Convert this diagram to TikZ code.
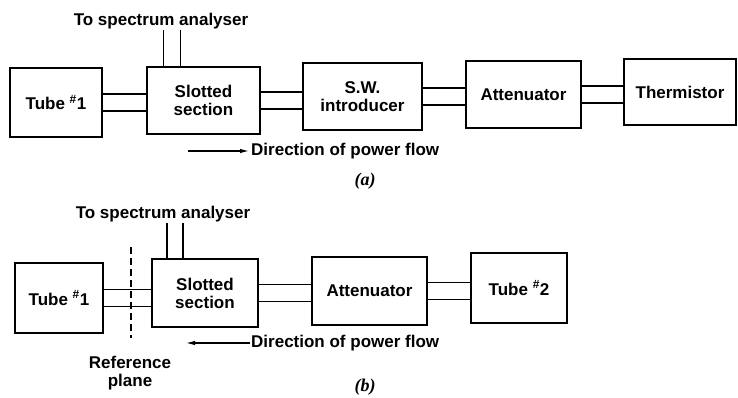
\documentclass[tikz,border=0pt]{standalone}
\usepackage{fontspec}
\setmainfont{Liberation Sans}
\newfontfamily\capfont{Liberation Serif}
\usetikzlibrary{arrows.meta,positioning,calc}

\begin{document}
\begin{tikzpicture}[x=1pt,y=-1pt,
  blk/.style={draw,line width=2pt,minimum height=67pt,
              font=\bfseries\fontsize{17}{18}\selectfont,align=center,inner sep=2pt},
  wg/.style={line width=1.8pt},
  lbl/.style={font=\bfseries\fontsize{17}{18}\selectfont,inner sep=1pt,align=center},
  flow/.style={-{Latex[length=10pt,width=4.5pt]},line width=1.6pt},
  captxt/.style={font=\capfont\bfseries\itshape\fontsize{18}{18}\selectfont}
]
\useasboundingbox (0,0) rectangle (738,397);

% (a)
\node[blk,minimum width=92pt,minimum height=69pt] (tubeA) at (56,102.5) {Tube \textsuperscript{\#}1};
\node[blk,minimum width=113pt] (slotA) at (203.5,100.5) {Slotted\\section};
\node[blk,minimum width=119pt] (swA) at (362.5,96.5) {S.W.\\introducer};
\node[blk,minimum width=115pt] (attA) at (523.5,94.5) {Attenuator};
\node[blk,minimum width=112pt,minimum height=66pt] (thermA) at (680,92) {Thermistor};

\foreach \a/\b in {tubeA/slotA,slotA/swA,swA/attA,attA/thermA}{
  \draw[wg] ([yshift=8.5pt]\a.east) -- ([yshift=8.5pt]\a.east -| \b.west);
  \draw[wg] ([yshift=-8.5pt]\a.east) -- ([yshift=-8.5pt]\a.east -| \b.west);
}

\node[lbl] (specA) at (161,21) {To spectrum analyser};
\draw[wg] ([xshift=-40pt]slotA.north) -- ([xshift=-40pt]slotA.north |- specA.south);
\draw[wg] ([xshift=-23pt]slotA.north) -- ([xshift=-23pt]slotA.north |- specA.south);

\node[lbl,anchor=west] (flowA) at (250,151) {Direction of power flow};
\coordinate (tailA) at (188,151);
\draw[flow] (tailA) -- (flowA.west);

\node[captxt] (capA) at (365,181) {(a)};

% (b)
\node[blk,minimum width=88pt,minimum height=70pt] (tubeB) at (59,298) {Tube \textsuperscript{\#}1};
\node[blk,minimum width=106pt,minimum height=68pt] (slotB) at (205,293) {Slotted\\section};
\node[blk,minimum width=115pt,minimum height=68pt] (attB) at (369.5,291) {Attenuator};
\node[blk,minimum width=96pt,minimum height=70pt] (tubeTwoB) at (519,288) {Tube \textsuperscript{\#}2};

\foreach \a/\b in {tubeB/slotB,slotB/attB,attB/tubeTwoB}{
  \draw[wg] ([yshift=8.5pt]\a.east) -- ([yshift=8.5pt]\a.east -| \b.west);
  \draw[wg] ([yshift=-8.5pt]\a.east) -- ([yshift=-8.5pt]\a.east -| \b.west);
}

\node[lbl] (specB) at (163,214) {To spectrum analyser};
\draw[wg] ([xshift=-38pt]slotB.north) -- ([xshift=-38pt]slotB.north |- specB.south);
\draw[wg] ([xshift=-22pt]slotB.north) -- ([xshift=-22pt]slotB.north |- specB.south);

\node[lbl] (refB) at (130,373) {Reference\\plane};
\coordinate (planeTop) at (131,247);
\coordinate (planeBot) at (131,338);
\draw[wg,dash pattern=on 7pt off 4pt] (planeTop) -- (planeBot);

\node[lbl,anchor=west] (flowB) at (250,343) {Direction of power flow};
\coordinate (tailB) at (185,343);
\draw[flow] (flowB.west) -- (tailB);

\node[captxt] (capB) at (365,387) {(b)};
\end{tikzpicture}
\end{document}
